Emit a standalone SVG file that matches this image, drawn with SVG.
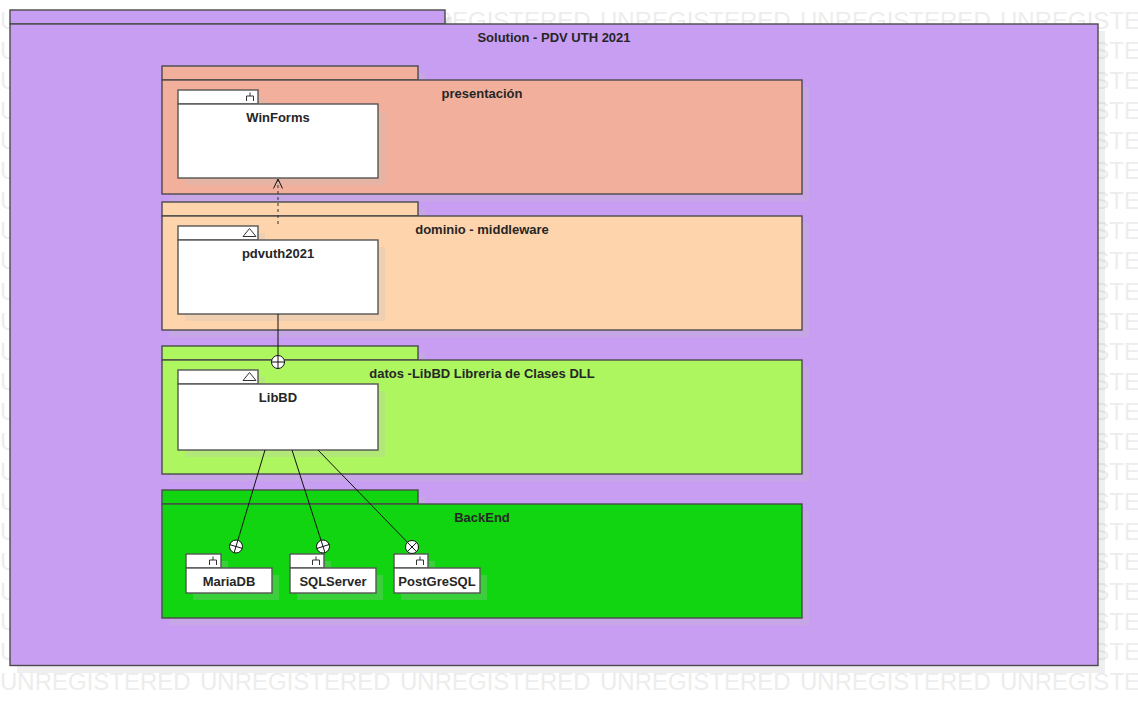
<svg xmlns="http://www.w3.org/2000/svg" width="1138" height="706" viewBox="0 0 1138 706">
<style>
.wm{font-family:"Liberation Sans",Arial,sans-serif;font-size:24px;fill:#ededed;word-spacing:2.65px}
.shadow{fill:#bfbfbf;fill-opacity:0.25}
.pkg{stroke:#4a4a4a;stroke-width:1.4}
.comp{fill:#fff;stroke:#555;stroke-width:1.4}
.lbl{font-family:"Liberation Sans",Arial,sans-serif;font-size:13px;font-weight:bold;fill:#262626;text-anchor:middle}
.icon{fill:none;stroke:#333;stroke-width:1}
.conn{fill:none;stroke:#111;stroke-width:1}
.dash{fill:none;stroke:#333;stroke-width:1;stroke-dasharray:3,3}
.knot{fill:#fff;stroke:#111;stroke-width:1}
</style>
<rect width="1138" height="706" fill="#fff"/>
<g id="watermark">
<text class="wm" x="0" y="29">UNREGISTERED UNREGISTERED UNREGISTERED UNREGISTERED UNREGISTERED UNREGISTERED</text>
<text class="wm" x="0" y="59">UNREGISTERED</text><text class="wm" x="1000" y="59">UNREGISTERED</text>
<text class="wm" x="0" y="89">UNREGISTERED</text><text class="wm" x="1000" y="89">UNREGISTERED</text>
<text class="wm" x="0" y="119">UNREGISTERED</text><text class="wm" x="1000" y="119">UNREGISTERED</text>
<text class="wm" x="0" y="149">UNREGISTERED</text><text class="wm" x="1000" y="149">UNREGISTERED</text>
<text class="wm" x="0" y="179">UNREGISTERED</text><text class="wm" x="1000" y="179">UNREGISTERED</text>
<text class="wm" x="0" y="209">UNREGISTERED</text><text class="wm" x="1000" y="209">UNREGISTERED</text>
<text class="wm" x="0" y="239">UNREGISTERED</text><text class="wm" x="1000" y="239">UNREGISTERED</text>
<text class="wm" x="0" y="269">UNREGISTERED</text><text class="wm" x="1000" y="269">UNREGISTERED</text>
<text class="wm" x="0" y="299.5">UNREGISTERED</text><text class="wm" x="1000" y="299.5">UNREGISTERED</text>
<text class="wm" x="0" y="329.5">UNREGISTERED</text><text class="wm" x="1000" y="329.5">UNREGISTERED</text>
<text class="wm" x="0" y="359.5">UNREGISTERED</text><text class="wm" x="1000" y="359.5">UNREGISTERED</text>
<text class="wm" x="0" y="389.5">UNREGISTERED</text><text class="wm" x="1000" y="389.5">UNREGISTERED</text>
<text class="wm" x="0" y="419.5">UNREGISTERED</text><text class="wm" x="1000" y="419.5">UNREGISTERED</text>
<text class="wm" x="0" y="449.5">UNREGISTERED</text><text class="wm" x="1000" y="449.5">UNREGISTERED</text>
<text class="wm" x="0" y="479.5">UNREGISTERED</text><text class="wm" x="1000" y="479.5">UNREGISTERED</text>
<text class="wm" x="0" y="509.5">UNREGISTERED</text><text class="wm" x="1000" y="509.5">UNREGISTERED</text>
<text class="wm" x="0" y="539.5">UNREGISTERED</text><text class="wm" x="1000" y="539.5">UNREGISTERED</text>
<text class="wm" x="0" y="569.5">UNREGISTERED</text><text class="wm" x="1000" y="569.5">UNREGISTERED</text>
<text class="wm" x="0" y="599.5">UNREGISTERED</text><text class="wm" x="1000" y="599.5">UNREGISTERED</text>
<text class="wm" x="0" y="630">UNREGISTERED</text><text class="wm" x="1000" y="630">UNREGISTERED</text>
<text class="wm" x="0" y="660">UNREGISTERED</text><text class="wm" x="1000" y="660">UNREGISTERED</text>
<text class="wm" x="0" y="690">UNREGISTERED UNREGISTERED UNREGISTERED UNREGISTERED UNREGISTERED UNREGISTERED</text>
</g>

<g id="pkg-solution">
<path class="shadow" d="M17,17H452V31H1105V673H17Z"/>
<rect class="pkg" x="10" y="10" width="435" height="14" fill="#c89ef2"/>
<rect class="pkg" x="10" y="24" width="1088" height="641.5" fill="#c89ef2"/>
<text class="lbl" x="554" y="41.5">Solution - PDV UTH 2021</text>
</g>

<g id="pkg-presentacion">
<path class="shadow" d="M169,73H425V87H809V201H169Z"/>
<rect class="pkg" x="162" y="66" width="256" height="14" fill="#f2b09c"/>
<rect class="pkg" x="162" y="80" width="640" height="114" fill="#f2b09c"/>
<text class="lbl" x="482" y="97.5">presentación</text>
</g>

<g id="pkg-dominio">
<path class="shadow" d="M169,209H425V223H809V337H169Z"/>
<rect class="pkg" x="162" y="202" width="256" height="14" fill="#fed4ad"/>
<rect class="pkg" x="162" y="216" width="640" height="114" fill="#fed4ad"/>
<text class="lbl" x="482" y="233.5">dominio - middleware</text>
</g>

<g id="pkg-datos">
<path class="shadow" d="M169,353H425V367H809V481H169Z"/>
<rect class="pkg" x="162" y="346" width="256" height="14" fill="#adf65f"/>
<rect class="pkg" x="162" y="360" width="640" height="114" fill="#adf65f"/>
<text class="lbl" x="482" y="377.5">datos -LibBD Libreria de Clases DLL</text>
</g>

<g id="pkg-backend">
<path class="shadow" d="M169,497H425V511H809V625H169Z"/>
<rect class="pkg" x="162" y="490" width="256" height="14" fill="#11d511"/>
<rect class="pkg" x="162" y="504" width="640" height="114" fill="#11d511"/>
<text class="lbl" x="482" y="521.5">BackEnd</text>
</g>

<g id="comp-winforms">
<path class="shadow" d="M185,97H265V111H385V185H185Z"/>
<rect class="comp" x="178" y="90" width="80" height="14"/>
<rect class="comp" x="178" y="104" width="200" height="74"/>
<path class="icon" d="M250,92.5V96M246.5,101V96H253.5V101"/>
<text class="lbl" x="278" y="122">WinForms</text>
</g>

<g id="comp-pdvuth2021">
<path class="shadow" d="M185,233H265V247H385V321H185Z"/>
<rect class="comp" x="178" y="226" width="80" height="14"/>
<rect class="comp" x="178" y="240" width="200" height="74"/>
<path class="icon" d="M243,236.5L249.5,228.5L256,236.5Z"/>
<text class="lbl" x="278" y="258">pdvuth2021</text>
</g>

<g id="comp-libbd">
<path class="shadow" d="M185,377H265V391H385V457H185Z"/>
<rect class="comp" x="178" y="370" width="80" height="14"/>
<rect class="comp" x="178" y="384" width="200" height="66"/>
<path class="icon" d="M243,380.5L249.5,372.5L256,380.5Z"/>
<text class="lbl" x="278" y="401.5">LibBD</text>
</g>

<g id="comp-mariadb">
<path class="shadow" d="M193,561H228V575H279V600H193Z"/>
<rect class="comp" x="186" y="554" width="35" height="14"/>
<rect class="comp" x="186" y="568" width="86" height="25"/>
<path class="icon" d="M213,556.5V560M209.5,565V560H216.5V565"/>
<text class="lbl" x="229" y="586">MariaDB</text>
</g>

<g id="comp-sqlserver">
<path class="shadow" d="M297,561H331V575H383V600H297Z"/>
<rect class="comp" x="290" y="554" width="34" height="14"/>
<rect class="comp" x="290" y="568" width="86" height="25"/>
<path class="icon" d="M316,556.5V560M312.5,565V560H319.5V565"/>
<text class="lbl" x="333" y="586">SQLServer</text>
</g>

<g id="comp-postgresql">
<path class="shadow" d="M401,561H435V575H487V600H401Z"/>
<rect class="comp" x="394" y="554" width="34" height="14"/>
<rect class="comp" x="394" y="568" width="86" height="25"/>
<path class="icon" d="M420,556.5V560M416.5,565V560H423.5V565"/>
<text class="lbl" x="437" y="586">PostGreSQL</text>
</g>

<g id="connectors">
<path class="dash" d="M278,224V180"/>
<path class="conn" d="M273.5,188.5L278,179L282.5,188.5"/>
<path class="conn" d="M278,314V355.5"/>
<circle class="knot" cx="278" cy="362" r="6.5"/>
<path class="conn" d="M278,355.5V368.5M271.5,362H284.5"/>
<path class="conn" d="M265,450L237.87,540.27"/>
<circle class="knot" cx="236" cy="546.5" r="6.5"/>
<path class="conn" d="M237.87,540.27L234.13,552.73M229.77,544.63L242.23,548.37"/>
<path class="conn" d="M292,450L321.01,540.31"/>
<circle class="knot" cx="323" cy="546.5" r="6.5"/>
<path class="conn" d="M321.01,540.31L324.99,552.69M316.81,548.49L329.19,544.51"/>
<path class="conn" d="M318,450L407.48,542.33"/>
<circle class="knot" cx="412" cy="547" r="6.5"/>
<path class="conn" d="M407.48,542.33L416.52,551.67M407.33,551.52L416.67,542.48"/>
</g>
</svg>
